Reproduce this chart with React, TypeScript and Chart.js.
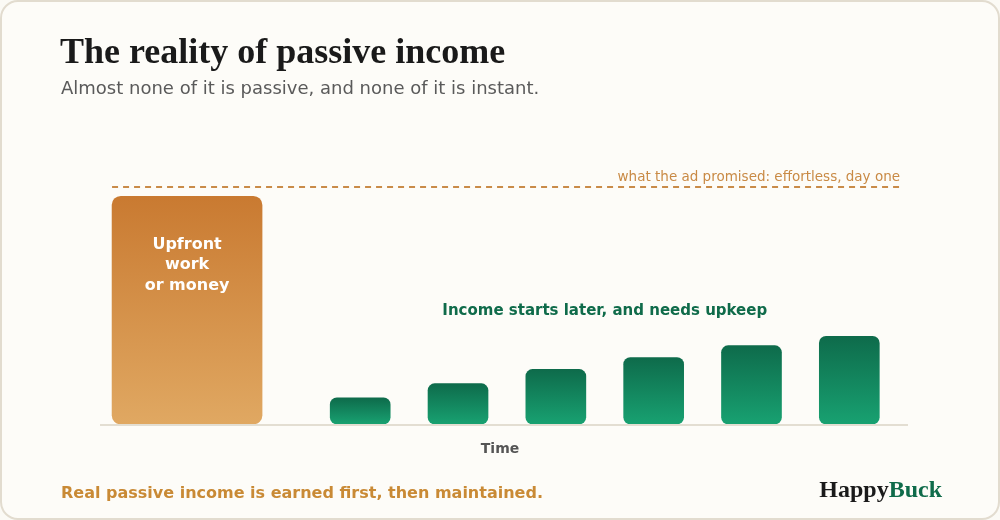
import React, { useEffect, useRef } from "react";
import { Chart, registerables } from "chart.js";

Chart.register(...registerables);

// ---- data ----
const titleText = "The reality of passive income";
const subtitleText = "Almost none of it is passive, and none of it is instant.";
const footerText = "Real passive income is earned first, then maintained.";
const brandParts = ["Happy", "Buck"];

const promiseLabel = "what the ad promised: effortless, day one";
const promiseValue = 100;

const upfrontLines = ["Upfront", "work", "or money"];
const upfrontX = [-0.77];
const upfrontValues = [96];

const incomeLabel = "Income starts later, and needs upkeep";
const incomeX = [1, 2, 3, 4, 5, 6];
const incomeValues = [11, 17, 23, 28, 33, 37];

const xAxisTitle = "Time";
const xRange = [-1.66, 6.6];
const yRange = [0, 110];

const SANS = "'DejaVu Sans', sans-serif";
const SERIF = "'Liberation Serif', serif";

function gradient(top: string, bottom: string) {
  return (c: any) => {
    const chart = c.chart;
    const { ctx, chartArea, scales } = chart;
    if (!chartArea || c.type !== "data" || !scales.y) return bottom;
    const v = c.parsed ? c.parsed.y : c.raw.y;
    const yt = scales.y.getPixelForValue(v);
    const yb = scales.y.getPixelForValue(0);
    const g = ctx.createLinearGradient(0, yt, 0, yb);
    g.addColorStop(0, top);
    g.addColorStop(1, bottom);
    return g;
  };
}

const annotationPlugin = {
  id: "annotations",
  beforeDatasetsDraw(chart: any) {
    const { ctx, chartArea: ca, scales } = chart;
    const yb = scales.y.getPixelForValue(0);
    ctx.save();
    ctx.strokeStyle = "#e3ded2";
    ctx.lineWidth = 2;
    ctx.beginPath();
    ctx.moveTo(ca.left, yb + 1);
    ctx.lineTo(ca.right, yb + 1);
    ctx.stroke();

    const yp = Math.round(scales.y.getPixelForValue(promiseValue));
    const ob = chart.getDatasetMeta(0).data[0];
    const left = ob.x - ob.width / 2;
    const right = ca.right - 8;
    ctx.setLineDash([6, 5]);
    ctx.strokeStyle = "#c98b48";
    ctx.lineWidth = 2;
    ctx.beginPath();
    ctx.moveTo(left, yp);
    ctx.lineTo(right, yp);
    ctx.stroke();
    ctx.setLineDash([]);

    ctx.fillStyle = "#c98a45";
    ctx.font = `13.5px ${SANS}`;
    ctx.textAlign = "right";
    ctx.textBaseline = "middle";
    ctx.fillText(promiseLabel, right, yp - 10);
    ctx.restore();
  },
  afterDatasetsDraw(chart: any) {
    const { ctx, scales } = chart;
    ctx.save();
    const ob = chart.getDatasetMeta(0).data[0];
    ctx.fillStyle = "#ffffff";
    ctx.font = `bold 16px ${SANS}`;
    ctx.textAlign = "center";
    ctx.textBaseline = "middle";
    upfrontLines.forEach((line, i) => {
      ctx.fillText(line, ob.x, ob.y + 48.5 + i * 20.5);
    });

    const bars = chart.getDatasetMeta(1).data;
    const cx = (bars[0].x + bars[bars.length - 1].x) / 2;
    ctx.fillStyle = "#0f6b4a";
    ctx.font = `bold 15px ${SANS}`;
    ctx.fillText(incomeLabel, cx, 311.5);

    ctx.fillStyle = "#555555";
    ctx.font = `bold 14px ${SANS}`;
    ctx.fillText(xAxisTitle, 500, scales.y.getPixelForValue(0) + 25);
    ctx.restore();
  },
};

export default function App() {
  const ref = useRef<HTMLCanvasElement>(null);

  useEffect(() => {
    document.body.style.margin = "0";
    const canvas = ref.current!;
    const chart = new Chart(canvas, {
      type: "bar",
      data: {
        datasets: [
          {
            label: "Upfront work or money",
            data: upfrontX.map((x, i) => ({ x, y: upfrontValues[i] })) as any,
            stack: "all",
            barThickness: 150,
            borderRadius: 9,
            borderSkipped: false,
            backgroundColor: gradient("#c97a31", "#e0a862") as any,
          },
          {
            label: "Income",
            data: incomeX.map((x, i) => ({ x, y: incomeValues[i] })) as any,
            stack: "all",
            barThickness: 60,
            borderRadius: 7,
            borderSkipped: false,
            backgroundColor: gradient("#0e6b4b", "#18a171") as any,
          },
        ],
      },
      options: {
        responsive: false,
        animation: false,
        devicePixelRatio: 1,
        layout: { padding: { left: 100, right: 92, top: 163, bottom: 96 } },
        scales: {
          x: {
            type: "linear",
            min: xRange[0],
            max: xRange[1],
            offset: false,
            display: false,
          },
          y: {
            type: "linear",
            min: yRange[0],
            max: yRange[1],
            stacked: false,
            display: false,
          },
        },
        plugins: {
          legend: { display: false },
          tooltip: { enabled: false },
        },
      },
      plugins: [annotationPlugin],
    });
    return () => chart.destroy();
  }, []);

  return (
    <div
      style={{
        position: "fixed",
        left: 0,
        top: 0,
        width: 1000,
        height: 520,
        background: "#fbfaf5",
        overflow: "hidden",
      }}
    >
      <div
        style={{
          position: "absolute",
          left: 0,
          top: 0,
          width: 1000,
          height: 520,
          boxSizing: "border-box",
          border: "2px solid #e2dccf",
          borderRadius: 18,
          background: "#fdfcf8",
        }}
      />
      <canvas
        ref={ref}
        width={1000}
        height={520}
        style={{ position: "absolute", left: 0, top: 0, width: 1000, height: 520 }}
      />
      <div
        style={{
          position: "absolute",
          left: 60,
          top: 29,
          font: `bold 36px ${SERIF}`,
          lineHeight: "44px",
          color: "#1a1a1a",
          whiteSpace: "nowrap",
        }}
      >
        {titleText}
      </div>
      <div
        style={{
          position: "absolute",
          left: 61,
          top: 77,
          font: `18px ${SANS}`,
          lineHeight: "22px",
          color: "#5a5a5a",
          whiteSpace: "nowrap",
        }}
      >
        {subtitleText}
      </div>
      <div
        style={{
          position: "absolute",
          left: 61,
          top: 483,
          font: `bold 16px ${SANS}`,
          lineHeight: "19px",
          color: "#c98a35",
          whiteSpace: "nowrap",
        }}
      >
        {footerText}
      </div>
      <div
        style={{
          position: "absolute",
          right: 58,
          top: 475,
          font: `bold 24px ${SERIF}`,
          lineHeight: "28px",
          whiteSpace: "nowrap",
        }}
      >
        <span style={{ color: "#1a1a1a" }}>{brandParts[0]}</span>
        <span style={{ color: "#0f6b4a" }}>{brandParts[1]}</span>
      </div>
    </div>
  );
}
